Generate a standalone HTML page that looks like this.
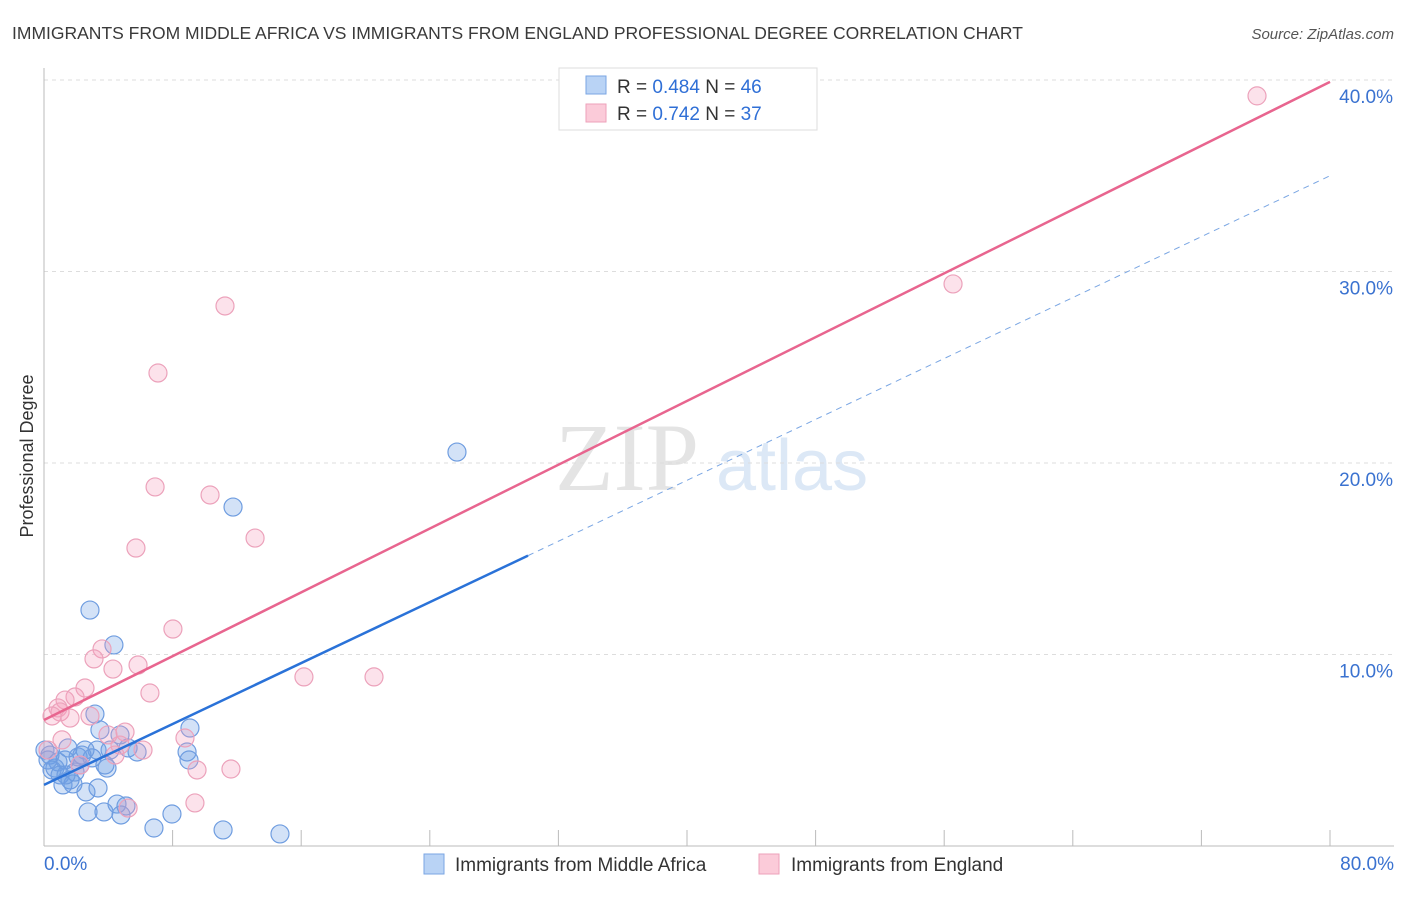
<!DOCTYPE html>
<html><head><meta charset="utf-8"><style>
body{margin:0;background:#fff;font-family:"Liberation Sans",sans-serif;}
</style></head><body>
<svg id="c" width="1406" height="892" xmlns="http://www.w3.org/2000/svg" style="font-family:'Liberation Sans',sans-serif">
<text x="12" y="39" font-size="17.5" fill="#3a3a3a">IMMIGRANTS FROM MIDDLE AFRICA VS IMMIGRANTS FROM ENGLAND PROFESSIONAL DEGREE CORRELATION CHART</text>
<text x="1394" y="39" font-size="15" font-style="italic" fill="#555" text-anchor="end">Source: ZipAtlas.com</text>
<text x="33" y="456" font-size="18" fill="#333" text-anchor="middle" transform="rotate(-90 33 456)">Professional Degree</text>
<text x="555" y="490" font-size="96" fill="#e4e4e4" font-family="'Liberation Serif',serif">ZIP</text>
<text x="716" y="490" font-size="72" fill="#dce8f6">atlas</text>
<g id="grid"></g><g id="axes"></g><g id="pts"></g><g id="lines"></g>
<g>
<rect x="559" y="68" width="258" height="62" fill="#fff" stroke="#ddd"/>
<rect x="586" y="76" width="20" height="18" fill="#b9d3f5" stroke="#7aa6e3"/>
<rect x="586" y="104" width="20" height="18" fill="#fbcbd9" stroke="#eea1ba"/>
<text x="617" y="93" font-size="19" fill="#333">R = <tspan fill="#2f6fd6">0.484</tspan>   N = <tspan fill="#2f6fd6">46</tspan></text>
<text x="617" y="120" font-size="19" fill="#333">R =  <tspan fill="#2f6fd6">0.742</tspan>   N =  <tspan fill="#2f6fd6">37</tspan></text>
</g>
<g>
<rect x="424" y="854" width="20" height="20" fill="#b9d3f5" stroke="#7aa6e3"/>
<text x="455" y="871" font-size="19" fill="#333">Immigrants from Middle Africa</text>
<rect x="759" y="854" width="20" height="20" fill="#fbcbd9" stroke="#eea1ba"/>
<text x="791" y="871" font-size="19" fill="#333">Immigrants from England</text>
</g>
</svg>
<script>
const blueX=[2.86,4.35,11.76,25.69,3.17,3.48,5.23,3.30,4.73,8.90,9.08,5.79,0.06,0.37,0.87,1.31,0.68,1.0,1.62,1.93,2.24,2.55,2.99,3.79,3.92,1.18,1.80,2.61,3.36,4.54,5.10,3.73,2.74,4.79,6.84,7.96,11.14,14.68,1.49,2.12,9.02,0.50,0.25,2.36,4.11,1.37];
const blueY=[12.32,10.50,17.70,20.57,6.89,6.06,5.12,5.01,5.80,4.91,6.16,4.91,5.01,4.75,4.39,4.49,4.07,3.71,3.45,3.86,4.23,5.01,4.60,4.23,4.07,3.19,3.24,2.82,3.03,2.19,2.09,1.78,1.78,1.62,0.94,1.67,0.84,0.63,5.12,4.65,4.49,3.97,4.49,4.75,5.01,3.71];
const pinkX=[75.46,56.55,11.26,7.09,6.91,10.33,13.13,5.72,8.02,3.61,3.11,4.29,5.85,16.17,20.53,6.59,2.55,1.93,1.31,0.87,1.0,0.50,1.62,2.86,3.98,5.04,4.73,6.16,4.42,8.77,9.52,11.63,9.39,5.23,0.25,2.24,1.12];
const pinkY=[39.17,29.35,28.20,24.70,18.75,18.33,16.08,15.56,11.33,10.29,9.77,9.24,9.45,8.83,8.83,7.99,8.25,7.78,7.62,7.21,7.0,6.79,6.68,6.79,5.80,5.95,5.27,5.01,4.75,5.64,3.97,4.02,2.25,1.98,5.01,4.23,5.54];
const yTicks=[10,20,30,40];
const xTickLabels=["0.0%","80.0%"];
const pinkFit=[6.58,39.9];
const blueFit=[3.19,35.0];
const blueSolidEnd=30.11;
const NS="http://www.w3.org/2000/svg";
const sx=v=>44+v/80*1286, sy=v=>846-v/10*191.5;
function mk(tag,attrs,parent){const e=document.createElementNS(NS,tag);for(const k in attrs)e.setAttribute(k,attrs[k]);document.getElementById(parent).appendChild(e);return e;}
yTicks.forEach(t=>{
 const l=mk('line',{x1:44,x2:1394,y1:sy(t),y2:sy(t),stroke:'#ddd','stroke-dasharray':'4 4'},'grid');
 
 
 const tx=mk('text',{x:1393,y:sy(t)+23,'font-size':19,fill:'#3a72d0','text-anchor':'end'},'grid');
 tx.textContent=t.toFixed(1)+'%';
 
 
});
const ax=mk('line',{x1:44,x2:44,y1:68,y2:846,stroke:'#bbb'},'axes');


const bx=mk('line',{x1:44,x2:1394,y1:846,y2:846,stroke:'#bbb'},'axes');


for(let i=0;i<=10;i++){const t=mk('line',{x1:sx(i*8),x2:sx(i*8),y1:830,y2:846,stroke:'#bbb'},'axes');
 
 }
[[0,'start',44],[1,'end',1394]].forEach(([i,a,x])=>{const t=mk('text',{x:x,y:870,'font-size':19,fill:'#3a72d0','text-anchor':a},'axes');t.textContent=xTickLabels[i];
 
 });
blueX.forEach((x,i)=>{const c=mk('circle',{cx:sx(x),cy:sy(blueY[i]),r:9,fill:'rgba(110,160,230,0.3)',stroke:'#6f9de0','stroke-width':1.2},'pts');
 
 });
pinkX.forEach((x,i)=>{const c=mk('circle',{cx:sx(x),cy:sy(pinkY[i]),r:9,fill:'rgba(245,160,190,0.3)',stroke:'#eca2bb','stroke-width':1.2},'pts');
 
 });
const bf=x=>blueFit[0]+(blueFit[1]-blueFit[0])*x/80;
const pl=mk('line',{x1:sx(0),y1:sy(pinkFit[0]),x2:sx(80),y2:sy(pinkFit[1]),stroke:'#e8658f','stroke-width':2.5},'lines');


const bl=mk('line',{x1:sx(0),y1:sy(bf(0)),x2:sx(blueSolidEnd),y2:sy(bf(blueSolidEnd)),stroke:'#2a72d8','stroke-width':2.5},'lines');


const bd=mk('line',{x1:sx(blueSolidEnd),y1:sy(bf(blueSolidEnd)),x2:sx(80),y2:sy(bf(80)),stroke:'#7aa6e3','stroke-width':1,'stroke-dasharray':'6 5'},'lines');


</script>
</body></html>
